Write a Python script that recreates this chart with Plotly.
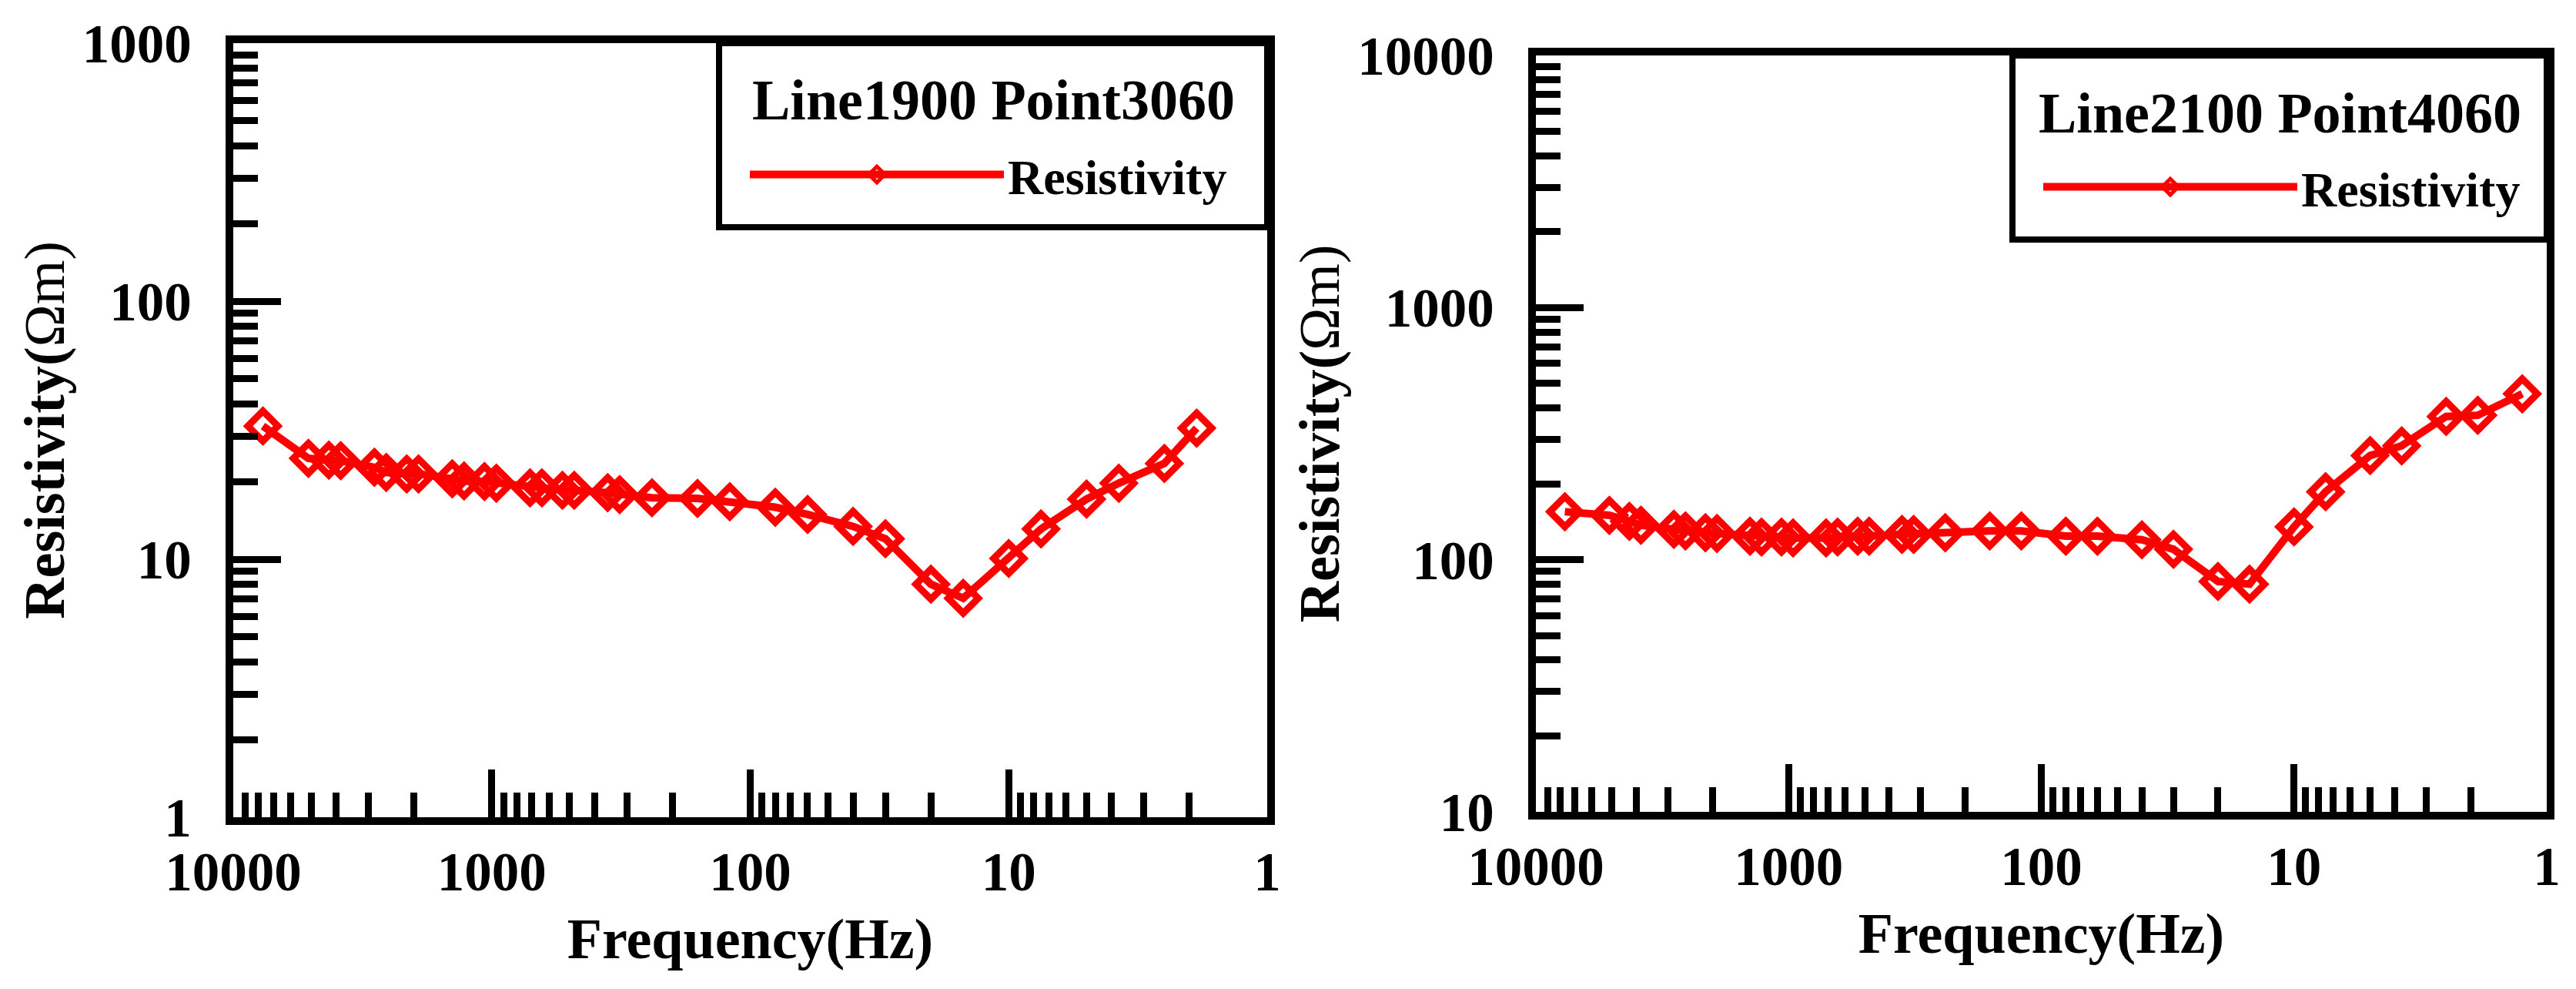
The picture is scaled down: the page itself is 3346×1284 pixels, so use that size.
import plotly.graph_objects as go

# MT sounding curves, two stations
freq_hz = [7680, 5120, 4267, 3840, 2844, 2560, 2133, 1920, 1422, 1280, 1067, 960,
           711, 640, 533, 480, 356, 320, 240, 160, 120, 80, 60, 40, 30, 20, 15,
           10, 7.5, 5, 3.75, 2.5, 1.875, 1.25]

rho_1900_3060 = [32.8, 24.6, 24.2, 24.1, 22.7, 21.7, 21.4, 21.4, 20.5, 20.1, 20.0, 19.7,
                 18.9, 18.9, 18.5, 18.5, 18.1, 17.8, 17.3, 17.2, 16.7, 15.9, 14.9, 13.4,
                 12.0, 8.0, 7.06, 10.07, 13.1, 17.1, 19.7, 23.5, 32.2]

rho_2100_4060 = [155, 150, 142, 137, 132, 130, 128, 127, 124, 123, 123, 122,
                 122, 123, 124, 124, 126, 126, 128, 130, 130, 124, 124, 120,
                 110, 82, 80, 135, 186, 259, 283, 370, 374, 455]

stations = ['Line1900 Point3060', 'Line2100 Point4060']

freq_ticks = [10000, 1000, 100, 10, 1]
rho_ticks_left = [1000, 100, 10, 1]
rho_ticks_right = [10000, 1000, 100, 10]

FONT = 'Liberation Serif'
RED = '#ff0000'
W, H = 3346, 1284


def px(x):
    return x / W


def py(y):
    return 1 - y / H


def minor_vals(ticks):
    lo, hi = min(ticks), max(ticks)
    out = []
    d = lo
    while d < hi:
        out += [d*k for k in range(2, 10)]
        d *= 10
    return out


def axis_style(ticks, rng, title, standoff, labgap):
    return dict(
        type='log', range=rng, automargin=False,
        tickmode='array', tickvals=ticks, ticktext=[str(t) for t in ticks],
        ticks='inside', ticklen=62, tickwidth=9, tickcolor='black',
        minor=dict(tickmode='array', tickvals=minor_vals(ticks), ticks='inside',
                   ticklen=32, tickwidth=9, tickcolor='black', showgrid=False),
        showline=True, linewidth=10, linecolor='black', mirror=True,
        showgrid=False, zeroline=False,
        tickfont=dict(family=FONT, size=71, color='black', weight='bold'),
        ticklabelstandoff=labgap,
        title=dict(text=title, standoff=standoff,
                   font=dict(family=FONT, size=74, color='black', weight='bold')),
    )


def curve(x, y, xa, ya, leg):
    return go.Scatter(
        x=x, y=y, name='Resistivity', mode='lines+markers',
        line=dict(color=RED, width=10),
        marker=dict(symbol='diamond-open', size=30, color=RED, line=dict(width=9, color=RED)),
        xaxis=xa, yaxis=ya, legend=leg,
    )


fig = go.Figure()
fig.add_trace(curve(freq_hz[:len(rho_1900_3060)], rho_1900_3060, 'x', 'y', 'legend'))
fig.add_trace(curve(freq_hz, rho_2100_4060, 'x2', 'y2', 'legend2'))

ytitle = '<b>Resistivity(</b><span style="font-weight:normal">Ωm)</span>'

xa = axis_style(freq_ticks, [4, 0], 'Frequency(Hz)', 26, 0)
fig.update_layout(
    width=W, height=H,
    margin=dict(l=0, r=0, t=0, b=0),
    paper_bgcolor='white', plot_bgcolor='white',
    showlegend=True,
    xaxis=dict(xa, domain=[px(303), px(1646)], anchor='y'),
    yaxis=dict(axis_style(rho_ticks_left, [0, 3], ytitle, 3, 30),
               domain=[py(1061), py(56)], anchor='x'),
    xaxis2=dict(xa, domain=[px(1995), px(3308)], anchor='y2'),
    yaxis2=dict(axis_style(rho_ticks_right, [1, 4], ytitle, 3, 30),
                domain=[py(1054), py(72)], anchor='x2'),
)

# legend boxes: frame, station title and the Resistivity entry
boxes = [('legend', stations[0], 934, 1646, 56, 295, 130, 227, 969),
         ('legend2', stations[1], 2614, 3308, 72, 311, 147, 243, 2649)]
for key, st, x0, x1, y0, y1, ty, ey, lx in boxes:
    fig.add_shape(type='rect', xref='paper', yref='paper',
                  x0=px(x0), x1=px(x1), y0=py(y1), y1=py(y0),
                  line=dict(color='black', width=8), fillcolor='rgba(0,0,0,0)')
    fig.add_annotation(text='<b>%s</b>' % st, xref='paper', yref='paper',
                       x=px((x0 + x1) / 2), y=py(ty), xanchor='center', yanchor='middle',
                       showarrow=False,
                       font=dict(family=FONT, size=74, color='black'))
    fig.update_layout({key: dict(
        x=px(lx), y=py(ey), xanchor='left', yanchor='middle',
        bgcolor='rgba(0,0,0,0)', borderwidth=0,
        itemwidth=330,
        font=dict(family=FONT, size=64, color='black', weight='bold'),
    )})

fig.write_html("out.html", post_script="document.body.style.margin='0';",
               config={'displayModeBar': False})
